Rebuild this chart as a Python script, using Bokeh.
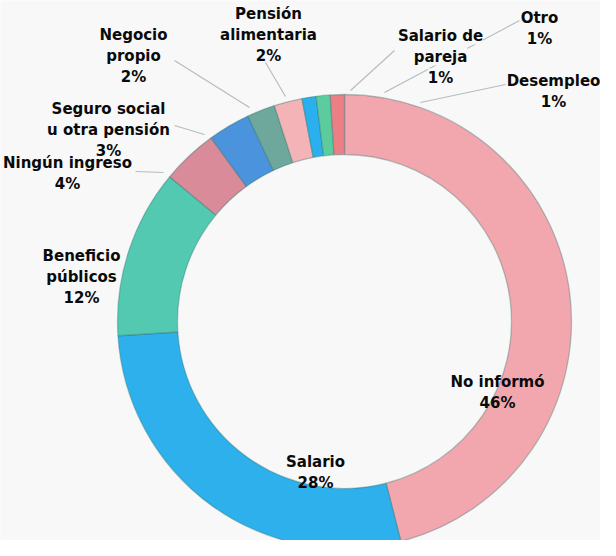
import numpy as np
from bokeh.plotting import figure
from bokeh.models import Range1d, ColumnDataSource
from bokeh.core.properties import value
from bokeh.embed import file_html
from bokeh.resources import INLINE

# ---- data ----
categories = ["No informó", "Salario", "Beneficio\npúblicos", "Ningún ingreso",
              "Seguro social\nu otra pensión", "Negocio\npropio", "Pensión\nalimentaria",
              "Salario de\npareja", "Otro", "Desempleo"]
percent = [46, 28, 12, 4, 3, 2, 2, 1, 1, 1]
colors = ["#f2a7ae", "#2db0ec", "#52c9b0", "#d98b99", "#4b94dd",
          "#6ea89d", "#f4b3b6", "#2ab0ee", "#5ccc9e", "#ec7f86"]

# ---- layout (reference pixel coords) ----
label_x = [505, 323, 89, 75, 116, 141, 276, 448, 547, 561]
label_y = [389, 469, 263, 170, 116, 42, 21, 43, 25, 88]
label_bg = [False, False, False, False, False, False, False, True, False, False]
line_gap = 21
leader_x0 = [None, None, None, 143, 182, 182, 273, 402, 527, 513]
leader_y0 = [None, None, None, 179, 133, 68, 70, 58, 28, 92]
leader_x1 = [None, None, None, 171, 212, 257, 293, 358, 392, 428]
leader_y1 = [None, None, None, 180, 142, 115, 104, 98, 100, 110]

H = 556
cx, cy = 352, 329
r_out, r_in = 227, 167
bg = "#f8f8f8"

def Y(y):
    return H - y

p = figure(width=600, height=540, x_range=Range1d(8, 608), y_range=Range1d(8, 548),
           output_backend="svg", toolbar_location=None, min_border=0)
p.axis.visible = False
p.grid.visible = False
p.outline_line_color = None
p.background_fill_color = bg
p.border_fill_color = bg

# leader lines
xs, ys = [], []
for a, b, c, d in zip(leader_x0, leader_y0, leader_x1, leader_y1):
    if a is None:
        continue
    xs.append([a, c])
    ys.append([Y(b), Y(d)])
p.multi_line(xs, ys, line_color="#b3bdc1", line_width=1.2)

# ring
frac = np.array(percent, dtype=float) / sum(percent)
cum = np.concatenate([[0], np.cumsum(frac)])
start = np.pi / 2 - 2 * np.pi * cum[:-1]
end = np.pi / 2 - 2 * np.pi * cum[1:]
src = ColumnDataSource(dict(start=start, end=end, color=colors))
p.annular_wedge(x=cx, y=Y(cy), inner_radius=r_in, outer_radius=r_out,
                start_angle="start", end_angle="end", direction="clock",
                fill_color="color", line_color="#2f6f6a", line_alpha=0.35,
                line_width=1.3, source=src)

# labels
plain = dict(x=[], y=[], t=[])
boxed = dict(x=[], y=[], t=[])
for cat, pc, lx, ly, hasbg in zip(categories, percent, label_x, label_y, label_bg):
    lines = cat.split("\n") + [f"{pc}%"]
    d = boxed if hasbg else plain
    for i, ln in enumerate(lines):
        d["x"].append(lx)
        d["y"].append(Y(ly + i * line_gap))
        d["t"].append(ln)

common = dict(text_font=value("DejaVu Sans"), text_font_style="bold",
              text_font_size="15px", text_color="#0a0a0a", text_align="center",
              text_baseline="middle")
p.text(plain["x"], plain["y"], text=plain["t"], **common)
p.text(boxed["x"], boxed["y"], text=boxed["t"], background_fill_color=bg, **common)

open("out.html", "w").write(file_html(p, INLINE))
